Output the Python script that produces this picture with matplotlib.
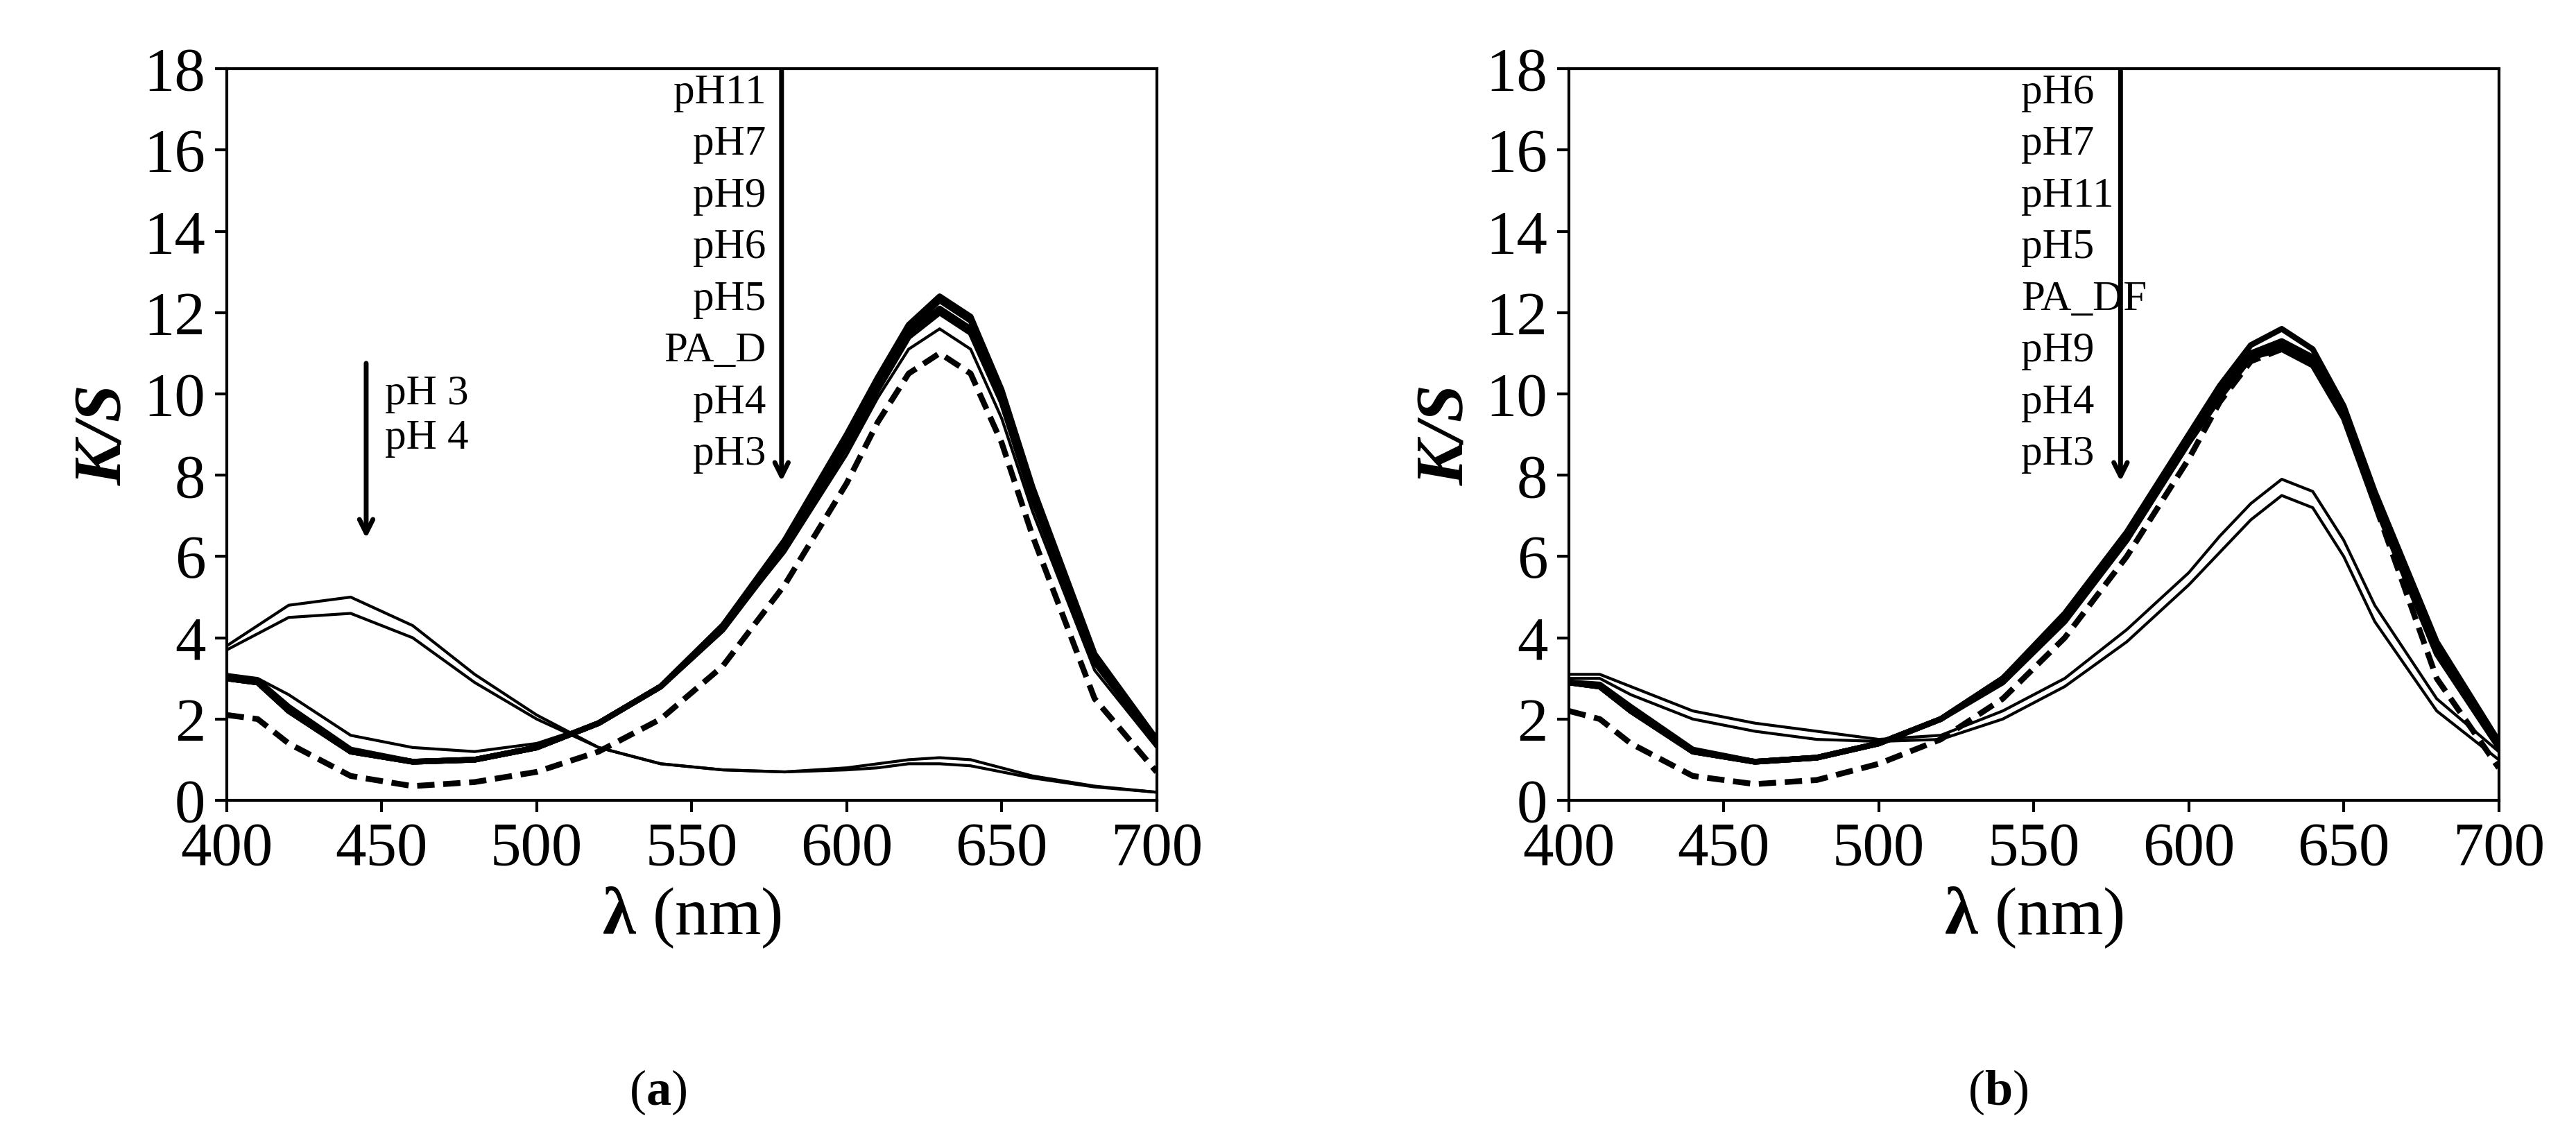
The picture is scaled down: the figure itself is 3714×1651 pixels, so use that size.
import matplotlib
matplotlib.use("Agg")
import matplotlib.pyplot as plt
import numpy as np

plt.rcParams['font.family'] = ['Liberation Serif', 'DejaVu Serif']
plt.rcParams['mathtext.fontset'] = 'custom'
plt.rcParams['mathtext.bfit'] = 'Liberation Serif:bold:italic'
plt.rcParams['mathtext.bf'] = 'Liberation Serif:bold'
plt.rcParams['mathtext.rm'] = 'Liberation Serif'

wl = [400,410,420,440,460,480,500,520,540,560,580,600,610,620,630,640,650,660,680,700]

a_ph3 = [3.8,4.3,4.8,5.0,4.3,3.1,2.1,1.3,0.9,0.75,0.7,0.8,0.9,1.0,1.05,1.0,0.8,0.6,0.35,0.2]
a_ph4 = [3.7,4.1,4.5,4.6,4.0,2.9,2.0,1.3,0.9,0.75,0.7,0.75,0.8,0.9,0.9,0.85,0.7,0.55,0.33,0.2]
a_ph11 = [3.0,2.95,2.3,1.25,0.95,1.0,1.3,1.9,2.8,4.3,6.4,9.0,10.4,11.7,12.4,11.9,10.1,7.7,3.6,1.5]
a_ph7 = [3.0,2.9,2.2,1.2,0.95,1.0,1.3,1.9,2.8,4.3,6.3,8.9,10.3,11.6,12.3,11.8,10.0,7.6,3.5,1.5]
a_ph9 = [3.0,2.9,2.2,1.2,0.95,1.0,1.3,1.9,2.8,4.2,6.2,8.8,10.2,11.5,12.1,11.6,9.9,7.5,3.5,1.45]
a_ph6 = [3.0,2.9,2.2,1.2,0.95,1.0,1.3,1.9,2.8,4.2,6.2,8.7,10.1,11.4,12.0,11.5,9.8,7.4,3.4,1.4]
a_ph5 = [3.1,3.0,2.6,1.6,1.3,1.2,1.4,1.9,2.8,4.2,6.1,8.5,9.9,11.1,11.6,11.1,9.4,7.1,3.2,1.3]
a_pad = [2.1,2.0,1.4,0.6,0.35,0.45,0.7,1.2,2.0,3.3,5.3,7.8,9.3,10.5,11.0,10.5,8.8,6.5,2.5,0.7]

b_ph6 = [2.9,2.85,2.3,1.25,0.95,1.05,1.4,2.0,3.0,4.6,6.6,9.0,10.2,11.2,11.6,11.1,9.7,7.6,3.9,1.45]
b_ph7 = [2.9,2.8,2.2,1.2,0.95,1.05,1.4,2.0,3.0,4.5,6.5,8.9,10.1,11.0,11.3,10.9,9.6,7.5,3.8,1.4]
b_ph11 = [2.9,2.8,2.2,1.2,0.95,1.05,1.4,2.0,3.0,4.5,6.5,8.9,10.0,11.0,11.2,10.8,9.5,7.4,3.7,1.35]
b_ph5 = [2.9,2.8,2.2,1.2,0.95,1.05,1.4,2.0,2.9,4.4,6.4,8.8,9.9,10.9,11.1,10.7,9.4,7.3,3.6,1.3]
b_padf = [2.2,2.0,1.4,0.6,0.4,0.5,0.9,1.5,2.5,4.0,6.0,8.4,9.8,10.8,11.1,10.9,9.6,7.3,3.0,0.8]
b_ph4 = [3.1,3.1,2.8,2.2,1.9,1.7,1.5,1.6,2.2,3.0,4.2,5.6,6.5,7.3,7.9,7.6,6.4,4.8,2.5,1.2]
b_ph3 = [3.0,3.0,2.6,2.0,1.7,1.5,1.45,1.5,2.0,2.8,3.9,5.3,6.1,6.9,7.5,7.2,6.0,4.4,2.2,1.0]

a_labels = ["pH11","pH7","pH9","pH6","pH5","PA_D","pH4","pH3"]
b_labels = ["pH6","pH7","pH11","pH5","PA_DF","pH9","pH4","pH3"]
yticks = list(range(0, 19, 2))
xticks = list(range(400, 701, 50))

fig = plt.figure(figsize=(37.14, 16.51), dpi=100)
ax1 = fig.add_axes([0.088, 0.301, 0.361, 0.639])
ax2 = fig.add_axes([0.609, 0.301, 0.361, 0.639])

def style(ax):
    ax.set_xlim(400, 700); ax.set_ylim(0, 18)
    ax.set_xticks(xticks); ax.set_yticks(yticks)
    ax.tick_params(labelsize=64, width=3, length=12, direction='out', pad=10)
    for s in ax.spines.values():
        s.set_linewidth(3)
    ax.set_xlabel(r"$\boldsymbol{\lambda}$ (nm)", fontsize=70, labelpad=8)
    ax.set_ylabel("K/S", fontsize=70, fontweight='bold', style='italic', labelpad=8)

for y in [a_ph3, a_ph4, a_ph5]:
    ax1.plot(wl, y, color='black', lw=3)
for y in [a_ph11, a_ph7, a_ph9, a_ph6]:
    ax1.plot(wl, y, color='black', lw=6)
ax1.plot(wl, a_pad, color='black', lw=6, ls=(0, (3, 1.5)))

for y in [b_ph4, b_ph3]:
    ax2.plot(wl, y, color='black', lw=3)
for y in [b_ph6, b_ph7, b_ph11, b_ph5]:
    ax2.plot(wl, y, color='black', lw=6)
ax2.plot(wl, b_padf, color='black', lw=6, ls=(0, (3, 1.5)))

style(ax1); style(ax2)

ap = dict(arrowstyle='->,head_length=1.4,head_width=0.7', lw=5, color='black')
ax1.annotate("", xy=(445, 6.4), xytext=(445, 10.8), arrowprops=ap)
ax1.text(451, 10.0, "pH 3", fontsize=44, va='center')
ax1.text(451, 8.9, "pH 4", fontsize=44, va='center')
ax1.annotate("", xy=(579, 7.8), xytext=(579, 18), arrowprops=ap)
for i, t in enumerate(a_labels):
    ax1.text(574, 17.4 - i*1.27, t, fontsize=44, ha='right', va='center')
ax2.annotate("", xy=(578, 7.8), xytext=(578, 18), arrowprops=ap)
for i, t in enumerate(b_labels):
    ax2.text(546, 17.4 - i*1.27, t, fontsize=44, ha='left', va='center')

fig.text(0.2555, 0.046, r"($\mathbf{a}$)", fontsize=52, ha='center', va='center')
fig.text(0.7755, 0.046, r"($\mathbf{b}$)", fontsize=52, ha='center', va='center')

fig.savefig("out.png", dpi=100)
